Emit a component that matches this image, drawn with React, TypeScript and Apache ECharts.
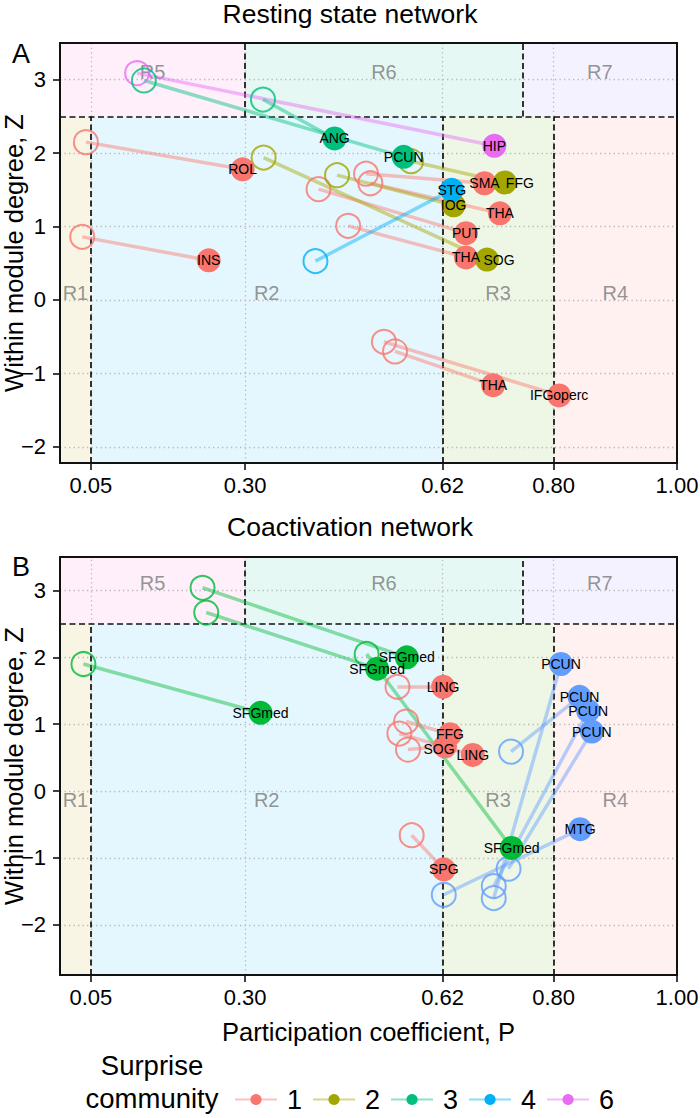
import React, { useEffect, useRef } from "react";
import * as echarts from "echarts";

// ---------- data ----------
const xTicks = [0.05, 0.3, 0.62, 0.8, 1.0];
const yTicks = [-2, -1, 0, 1, 2, 3];

// Panel A: Resting state network (hollow = before, filled = after)
const restNames = ["HIP", "PCUN", "ANG", "ROL", "INS", "SMA", "THA", "PUT", "THA", "IFGoperc", "THA", "SOG", "IOG", "FFG", "STG"];
const restCommunity = [6, 3, 3, 1, 1, 1, 1, 1, 1, 1, 1, 2, 2, 2, 4];
const restFromP = [0.125, 0.136, 0.329, 0.042, 0.036, 0.496, 0.503, 0.419, 0.467, 0.525, 0.543, 0.33, 0.449, 0.569, 0.414];
const restFromZ = [3.09, 2.99, 2.73, 2.15, 0.86, 1.72, 1.59, 1.51, 1.01, -0.57, -0.7, 1.94, 1.7, 1.89, 0.53];
const restToP = [0.704, 0.557, 0.445, 0.296, 0.241, 0.688, 0.713, 0.658, 0.658, 0.809, 0.702, 0.692, 0.638, 0.721, 0.635];
const restToZ = [2.1, 1.95, 2.2, 1.78, 0.54, 1.59, 1.18, 0.91, 0.58, -1.3, -1.16, 0.55, 1.29, 1.6, 1.5];

// Panel B: Coactivation network
const coactNames = ["SFGmed", "SFGmed", "SFGmed", "SFGmed", "LING", "FFG", "SOG", "LING", "SPG", "PCUN", "MTG", "PCUN", "PCUN", "PCUN"];
const coactCommunity = [3, 3, 3, 3, 1, 1, 1, 1, 1, 4, 4, 4, 4, 4];
const coactFromP = [0.038, 0.231, 0.237, 0.497, 0.547, 0.561, 0.564, 0.55, 0.57, 0.731, 0.622, 0.703, 0.703, 0.727];
const coactFromZ = [1.9, 3.04, 2.67, 2.05, 1.56, 1.04, 0.62, 0.86, -0.66, 0.59, -1.55, -1.6, -1.42, -1.16];
const coactToP = [0.325, 0.562, 0.514, 0.732, 0.621, 0.632, 0.624, 0.669, 0.622, 0.842, 0.843, 0.812, 0.856, 0.862];
const coactToZ = [1.17, 2.0, 1.83, -0.85, 1.56, 0.85, 0.67, 0.54, -1.17, 1.41, -0.57, 1.9, 1.2, 0.89];

// Regions (roles)
const regionNames = ["R1", "R2", "R3", "R4", "R5", "R6", "R7"];
const regionPmin = [0, 0.05, 0.62, 0.8, 0, 0.3, 0.75];
const regionPmax = [0.05, 0.62, 0.8, 1.0, 0.3, 0.75, 1.0];
const regionUpper = [false, false, false, false, true, true, true];
const zThreshold = 2.5;
const lowerBoundaries = [0.05, 0.62, 0.8];
const upperBoundaries = [0.3, 0.75];

// Legend
const legendCommunities = ["1", "2", "3", "4", "6"];

// ---------- styles ----------
const FONT = "Liberation Sans, Arial, Helvetica, sans-serif";
const regionColors = ["#F9F5E4", "#E5F7FE", "#EEF7E6", "#FEF1F0", "#FEEFFB", "#E5F8F3", "#F5F2FF"];
const paletteA: Record<number, string> = { 1: "#F8766D", 2: "#A3A500", 3: "#00BF7D", 4: "#00B0F6", 6: "#E76BF3" };
const paletteB: Record<number, string> = { 1: "#F8766D", 3: "#00BA38", 4: "#619CFF" };
const legendColors = ["#F8766D", "#A3A500", "#00BF7D", "#00B0F6", "#E76BF3"];
const restLabelNudge: Record<number, number[]> = { 11: [12, 0], 13: [15, 0] };
const coactLabelNudge: Record<number, number[]> = { 6: [-6, 3] };

const PANEL_X0 = 0;
const PANEL_X1 = 1;

function buildPanel(
  gi: number,
  yMin: number,
  yMax: number,
  lowLabelZ: number,
  names: string[],
  comm: number[],
  fromP: number[],
  fromZ: number[],
  toP: number[],
  toZ: number[],
  palette: Record<number, string>,
  nudges: Record<number, number[]>
) {
  const axisRef = { xAxisIndex: gi, yAxisIndex: gi };
  const series: any[] = [];

  // background regions
  series.push({
    type: "line",
    ...axisRef,
    data: [],
    silent: true,
    z: 1,
    markArea: {
      silent: true,
      data: regionNames.map((n, i) => [
        {
          xAxis: regionPmin[i],
          yAxis: regionUpper[i] ? zThreshold : yMin,
          itemStyle: { color: regionColors[i], opacity: 1 },
        },
        { xAxis: regionPmax[i], yAxis: regionUpper[i] ? yMax : zThreshold },
      ]),
      label: { show: false },
      emphasis: { disabled: true },
    },
  });

  // dotted grid
  const gridLines: any[] = [];
  xTicks.forEach((v) => gridLines.push([{ coord: [v, yMin] }, { coord: [v, yMax] }]));
  yTicks.forEach((v) => gridLines.push([{ coord: [PANEL_X0, v] }, { coord: [PANEL_X1, v] }]));
  series.push({
    type: "line",
    ...axisRef,
    data: [],
    silent: true,
    z: 2,
    markLine: {
      silent: true,
      symbol: ["none", "none"],
      label: { show: false },
      emphasis: { disabled: true },
      lineStyle: { color: "#b8b8b8", width: 1.3, type: [1.3, 3.2] },
      data: gridLines,
    },
  });

  // dashed boundaries
  const dashLines: any[] = [[{ coord: [PANEL_X0, zThreshold] }, { coord: [PANEL_X1, zThreshold] }]];
  lowerBoundaries.forEach((v) => dashLines.push([{ coord: [v, yMin] }, { coord: [v, zThreshold] }]));
  upperBoundaries.forEach((v) => dashLines.push([{ coord: [v, zThreshold] }, { coord: [v, yMax] }]));
  series.push({
    type: "line",
    ...axisRef,
    data: [],
    silent: true,
    z: 3,
    markLine: {
      silent: true,
      symbol: ["none", "none"],
      label: { show: false },
      emphasis: { disabled: true },
      lineStyle: { color: "#111", width: 1.7, type: [6, 3.5] },
      data: dashLines,
    },
  });

  // region labels
  series.push({
    type: "scatter",
    ...axisRef,
    silent: true,
    z: 4,
    symbolSize: 1,
    itemStyle: { color: "rgba(0,0,0,0)" },
    label: {
      show: true,
      position: "inside",
      formatter: (p: any) => p.value[2],
      color: "#7a7a7a",
      fontSize: 20,
      fontFamily: FONT,
    },
    data: regionNames.map((n, i) => [
      (regionPmin[i] + regionPmax[i]) / 2,
      regionUpper[i] ? 3.11 : lowLabelZ,
      n,
    ]),
  });

  // connections
  series.push({
    type: "lines",
    coordinateSystem: "cartesian2d",
    ...axisRef,
    silent: true,
    z: 5,
    lineStyle: { width: 3.5, opacity: 0.45 },
    data: names.map((n, i) => ({
      coords: [
        [fromP[i], fromZ[i]],
        [toP[i], toZ[i]],
      ],
      lineStyle: { color: palette[comm[i]], width: 3.5, opacity: 0.45 },
    })),
  });

  // hollow (before)
  series.push({
    type: "scatter",
    ...axisRef,
    silent: true,
    z: 6,
    symbol: "circle",
    symbolSize: 24,
    data: names.map((n, i) => ({
      value: [fromP[i], fromZ[i]],
      itemStyle: { color: "rgba(255,255,255,0)", borderColor: palette[comm[i]], borderWidth: 2 },
    })),
  });

  // filled (after) with labels
  series.push({
    type: "scatter",
    ...axisRef,
    silent: true,
    z: 7,
    symbol: "circle",
    symbolSize: 24,
    label: {
      show: true,
      position: "inside",
      formatter: (p: any) => p.value[2],
      color: "#000",
      fontSize: 14,
      fontFamily: FONT,
    },
    data: names.map((n, i) => ({
      value: [toP[i], toZ[i], n],
      itemStyle: { color: palette[comm[i]], opacity: 1 },
      label: nudges[i] ? { offset: nudges[i] } : undefined,
    })),
  });

  return series;
}

function xAxisFor(gi: number, withName: boolean) {
  return {
    type: "value",
    gridIndex: gi,
    min: PANEL_X0,
    max: PANEL_X1,
    splitLine: { show: false },
    axisLine: { show: true, onZero: false, lineStyle: { color: "#000", width: 2 } },
    axisTick: { show: true, customValues: xTicks, length: 7, lineStyle: { color: "#000", width: 1.5 } },
    axisLabel: {
      customValues: xTicks,
      formatter: (v: number) => v.toFixed(2),
      fontSize: 22,
      color: "#000",
      margin: 11,
      fontFamily: FONT,
    },
    name: withName ? "Participation coefficient, P" : "",
    nameLocation: "middle",
    nameMoveOverlap: false,
    nameGap: 44,
    nameTextStyle: { fontSize: 25.5, color: "#000", fontFamily: FONT },
  };
}

function yAxisFor(gi: number, min: number, max: number) {
  return {
    type: "value",
    gridIndex: gi,
    min,
    max,
    splitLine: { show: false },
    axisLine: { show: true, onZero: false, lineStyle: { color: "#000", width: 2 } },
    axisTick: { show: true, customValues: yTicks, length: 7, lineStyle: { color: "#000", width: 1.5 } },
    axisLabel: {
      customValues: yTicks,
      formatter: (v: number) => (v < 0 ? "\u2212" + Math.abs(v) : String(v)),
      fontSize: 22,
      color: "#000",
      margin: 14,
      fontFamily: FONT,
    },
    name: "Within module degree, Z",
    nameLocation: "middle",
    nameMoveOverlap: false,
    nameGap: 33,
    nameTextStyle: { fontSize: 25.5, color: "#000", fontFamily: FONT },
  };
}

export default function App() {
  const ref = useRef<HTMLDivElement>(null);
  useEffect(() => {
    document.body.style.margin = "0";
    if (!ref.current) return;
    const chart = echarts.init(ref.current, undefined, { renderer: "svg" });
    const yMinA = -2.22;
    const yMinB = -2.75;
    const yMax = 3.5;

    const legendSeries = legendCommunities.map((c, i) => ({
      type: "line",
      name: c,
      xAxisIndex: 0,
      yAxisIndex: 0,
      data: [],
      symbol: "circle",
      symbolSize: 13,
      itemStyle: { color: legendColors[i] },
      lineStyle: { color: legendColors[i], width: 4, opacity: 0.45 },
    }));

    const titleStyle = (size: number) => ({ fontSize: size, fontWeight: "normal", color: "#000", fontFamily: FONT });

    const gridCommon = {
      left: 60,
      width: 617,
      show: true,
      z: 10,
      borderColor: "#111",
      borderWidth: 2,
      backgroundColor: "rgba(0,0,0,0)",
      containLabel: false,
      outerBoundsMode: "none",
    };

    const option: any = {
      animation: false,
      textStyle: { fontFamily: FONT },
      title: [
        { text: "Resting state network", left: "center", top: 0, padding: 0, textStyle: titleStyle(26.5) },
        { text: "Coactivation network", left: "center", top: 513, padding: 0, textStyle: titleStyle(26.5) },
        { text: "A", left: 12, top: 40, padding: 0, textStyle: titleStyle(27) },
        { text: "B", left: 12, top: 553, padding: 0, textStyle: titleStyle(27) },
        { text: "Surprise", left: 152, textAlign: "center", top: 1051, padding: 0, textStyle: titleStyle(27.5) },
        { text: "community", left: 152, textAlign: "center", top: 1084, padding: 0, textStyle: titleStyle(27.5) },
      ],
      legend: {
        left: 234,
        top: 1086,
        itemWidth: 42,
        itemHeight: 14,
        itemGap: 10,
        padding: 0,
        data: legendCommunities,
        textStyle: { fontSize: 27, color: "#000", fontFamily: FONT, padding: [0, 0, 0, 5] },
        selectedMode: false,
      },
      grid: [
        { ...gridCommon, top: 43, height: 420 },
        { ...gridCommon, top: 557, height: 418 },
      ],
      xAxis: [xAxisFor(0, false), xAxisFor(1, true)],
      yAxis: [yAxisFor(0, yMinA, yMax), yAxisFor(1, yMinB, yMax)],
      series: [
        ...buildPanel(0, yMinA, yMax, 0.1, restNames, restCommunity, restFromP, restFromZ, restToP, restToZ, paletteA, restLabelNudge),
        ...buildPanel(1, yMinB, yMax, -0.13, coactNames, coactCommunity, coactFromP, coactFromZ, coactToP, coactToZ, paletteB, coactLabelNudge),
        ...legendSeries,
      ],
    };
    chart.setOption(option);
    return () => chart.dispose();
  }, []);
  return <div ref={ref} style={{ width: 700, height: 1118 }} />;
}
